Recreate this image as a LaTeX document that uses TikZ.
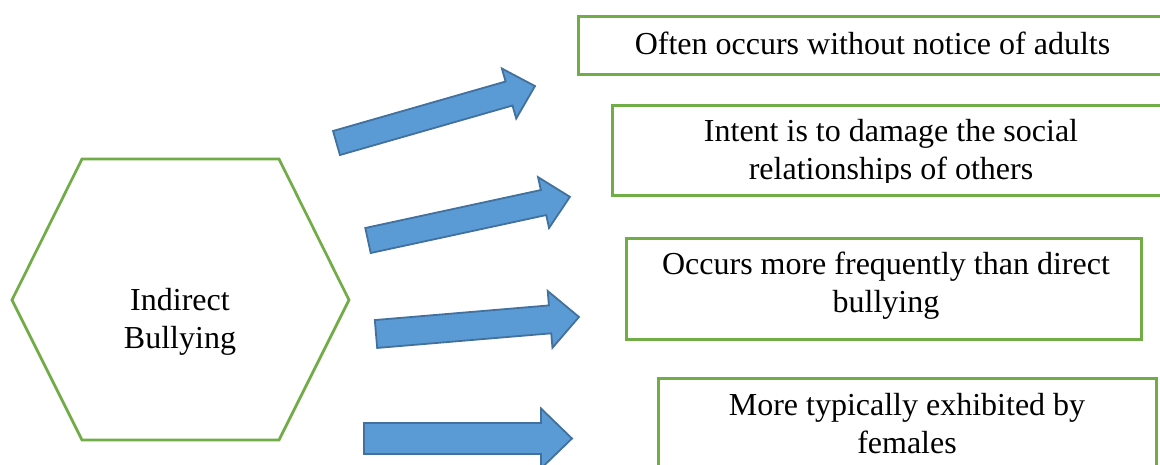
\documentclass[tikz,border=0pt]{standalone}
\usepackage{fontspec}
\setmainfont{Liberation Serif}
\definecolor{ogreen}{HTML}{70AD47}
\definecolor{ofill}{HTML}{5B9BD5}
\definecolor{oedge}{HTML}{41719C}
\newcommand{\BlkArrow}[7]{%
  \begin{scope}[shift={(#1,#2)}, rotate=#3]
    \draw[blkarrow] (0,-#5) -- (#4-#7,-#5) -- (#4-#7,-#6) -- (#4,0) -- (#4-#7,#6) -- (#4-#7,#5) -- (0,#5) -- cycle;
  \end{scope}}
\tikzset{
  greenline/.style={draw=ogreen, line width=2.7pt},
  textbox/.style={greenline, rectangle, inner sep=0pt, anchor=north west},
  blkarrow/.style={fill=ofill, draw=oedge, line width=1.8pt, line join=miter},
  label/.style={inner sep=0pt, anchor=base, font=\fontsize{32}{38}\selectfont},
}
\begin{document}
\begin{tikzpicture}[x=1pt, y=-1pt]
\clip (0,0) rectangle (1160,465);
\fill[white] (0,0) rectangle (1160,465);
% hexagon
\coordinate (h1) at (82,159);
\coordinate (h2) at (279,159);
\coordinate (h3) at (349,300);
\coordinate (h4) at (279,440);
\coordinate (h5) at (82,440);
\coordinate (h6) at (12,300);
\draw[greenline, line join=miter] (h1) -- (h2) -- (h3) -- (h4) -- (h5) -- (h6) -- cycle;
\node[label] (hex) at (180,310) {\parbox[t]{300pt}{\centering Indirect\\Bullying}};
% boxes
\node[textbox, minimum width=598pt, minimum height=58pt] (b1) at (577,15) {};
\node[textbox, minimum width=570pt, minimum height=90pt] (b2) at (611,104) {};
\node[textbox, minimum width=515pt, minimum height=101pt] (b3) at (625,237) {};
\node[textbox, minimum width=498pt, minimum height=100pt] (b4) at (657,377) {};
% texts
\node[label] (t1) at (872.5,55) {Often occurs without notice of adults};
\begin{scope}
\clip (600,100) rectangle (1160,183);
\node[label] (t2) at (891,142) {\parbox[t]{540pt}{\centering Intent is to damage the social\\relationships of others}};
\end{scope}
\node[label] (t3) at (886,275) {\parbox[t]{510pt}{\centering Occurs more frequently than direct\\bullying}};
\node[label] (t4) at (907,415) {\parbox[t]{490pt}{\centering More typically exhibited by\\females}};
% arrows
\BlkArrow{336.5}{143}{16.0}{206.5}{12.5}{26}{27}
\BlkArrow{368}{240.5}{12.2}{206.6}{12.8}{26}{27}
\BlkArrow{376}{334}{4.8}{203.7}{14}{28.5}{29}
\BlkArrow{364}{438.5}{0}{208}{15.5}{30}{31}
\end{tikzpicture}
\end{document}
